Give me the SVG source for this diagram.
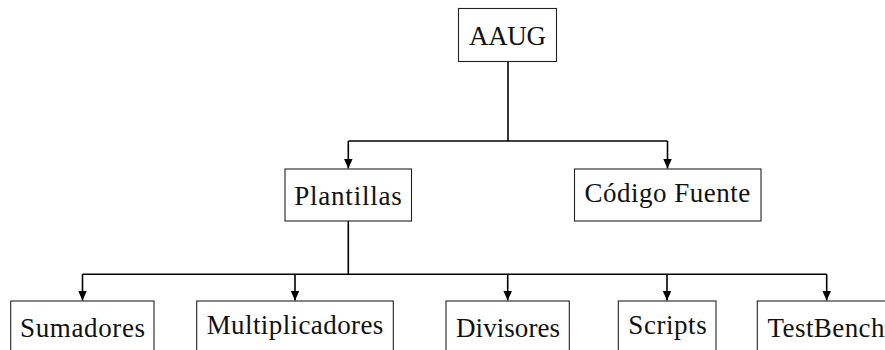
<svg xmlns="http://www.w3.org/2000/svg" width="885" height="350" viewBox="0 0 885 350">
  <style>
    .box { fill: #ffffff; stroke: #222222; stroke-width: 1.1; }
    .wire { fill: none; stroke: #000000; stroke-width: 1.6; }
    .drop { fill: none; stroke: #000000; stroke-width: 1.6; marker-end: url(#tip); }
    text { font-family: 'Liberation Serif', 'DejaVu Serif', serif; font-size: 27px; fill: #111111; text-anchor: middle; }
  </style>
  <defs>
    <marker id="tip" markerUnits="userSpaceOnUse" markerWidth="10" markerHeight="9" refX="10" refY="4.5" orient="auto">
      <path d="M0,0 L10,4.5 L0,9 z" fill="#000000"/>
    </marker>
  </defs>
  <rect width="885" height="350" fill="#ffffff"/>

  <g id="connectors">
    <!-- root to first level -->
    <path class="wire" d="M508,62 V141"/>
    <path class="wire" d="M348.3,141 H667.5"/>
    <path class="drop" d="M348.3,141 V168.5"/>
    <path class="drop" d="M667.5,141 V168.5"/>
    <!-- Plantillas to second level -->
    <path class="wire" d="M348.3,221 V274.3"/>
    <path class="wire" d="M82.5,274.3 H826.7"/>
    <path class="drop" d="M82.5,274.3 V300.5"/>
    <path class="drop" d="M295,274.3 V300.5"/>
    <path class="drop" d="M507.7,274.3 V300.5"/>
    <path class="drop" d="M667,274.3 V300.5"/>
    <path class="drop" d="M826.7,274.3 V300.5"/>
  </g>

  <g id="aaug">
    <rect class="box" x="458.5" y="8.5" width="98" height="53"/>
    <text x="507.5" y="44.5" textLength="77">AAUG</text>
  </g>

  <g id="plantillas">
    <rect class="box" x="285" y="169" width="126.5" height="52"/>
    <text x="348" y="204.5" textLength="107.5">Plantillas</text>
  </g>

  <g id="codigo-fuente">
    <rect class="box" x="574.5" y="169" width="186.5" height="52"/>
    <text x="667.3" y="202" textLength="165.7">Código Fuente</text>
  </g>

  <g id="sumadores">
    <rect class="box" x="10.7" y="301" width="143.3" height="52"/>
    <text x="82.5" y="336.5" textLength="125">Sumadores</text>
  </g>

  <g id="multiplicadores">
    <rect class="box" x="196.7" y="301" width="196.6" height="52"/>
    <text x="295" y="333.5" textLength="176.7">Multiplicadores</text>
  </g>

  <g id="divisores">
    <rect class="box" x="446" y="301" width="123.3" height="52"/>
    <text x="508" y="336.5" textLength="104">Divisores</text>
  </g>

  <g id="scripts">
    <rect class="box" x="618.3" y="301" width="97.7" height="52"/>
    <text x="667.5" y="333.5" textLength="78.3">Scripts</text>
  </g>

  <g id="testbench">
    <rect class="box" x="757.3" y="301" width="139" height="52"/>
    <text x="826" y="336.5" textLength="117">TestBench</text>
  </g>
</svg>
